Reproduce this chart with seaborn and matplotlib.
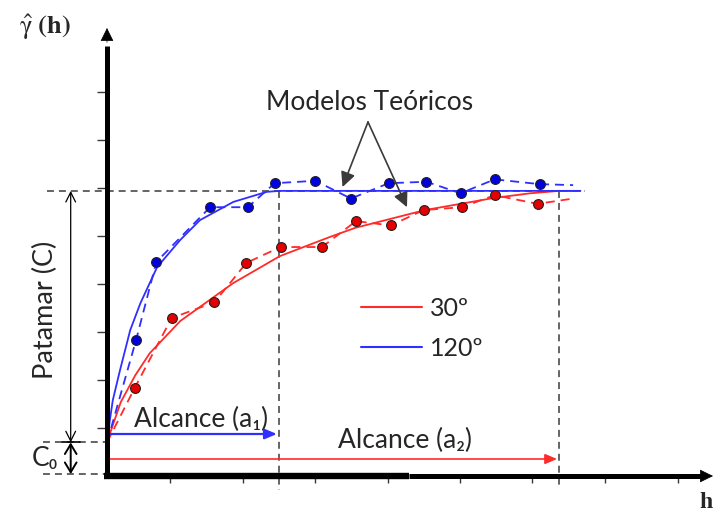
import matplotlib
matplotlib.use("Agg")
import matplotlib.pyplot as plt
import numpy as np
import pandas as pd
import seaborn as sns

# ---------------- data ----------------
# experimental semivariogram points, direction 120º
h_120 = [0.40, 0.68, 1.42, 1.94, 2.31, 2.87, 3.36, 3.88, 4.40, 4.87, 5.34, 5.96]
g_120 = [2.83, 4.46, 5.60, 5.60, 6.10, 6.15, 5.78, 6.10, 6.13, 5.89, 6.18, 6.08]
# experimental semivariogram points, direction 30º
h_30 = [0.38, 0.89, 1.48, 1.92, 2.39, 2.96, 3.43, 3.91, 4.36, 4.89, 5.34, 5.93]
g_30 = [1.83, 3.29, 3.62, 4.44, 4.77, 4.77, 5.31, 5.22, 5.54, 5.60, 5.85, 5.67]
# where the dashed experimental traces end (past the last point)
h_end = 6.42
g_end_120 = 6.06
g_end_30 = 5.78

# theoretical models (traced)
hm_120 = [0.00, 0.04, 0.08, 0.18, 0.32, 0.46, 0.69, 1.01, 1.28, 1.74, 2.20, 2.38, 6.52]
gm_120 = [0.70, 1.17, 1.58, 2.21, 3.04, 3.60, 4.35, 4.92, 5.33, 5.71, 5.92, 5.94, 5.94]
hm_30 = [0.00, 0.08, 0.19, 0.39, 0.59, 1.01, 1.74, 2.38, 3.07, 3.42, 4.38, 5.32, 5.83, 6.23, 6.52]
gm_30 = [0.70, 1.06, 1.54, 2.10, 2.56, 3.23, 4.02, 4.58, 4.98, 5.17, 5.54, 5.79, 5.89, 5.94, 5.94]

labels_dir = ["30º", "120º"]
nugget = 0.70     # C0
sill = 5.94       # C0 + C
range_1 = 2.37    # a1
range_2 = 6.23    # a2
x_ticks = [0.87, 1.87, 2.86, 3.87, 4.86, 5.85, 6.86, 7.86]
y_ticks = [1, 2, 3, 4, 5, 6, 7, 8]

# ---------------- style ----------------
sns.set_style("white")
plt.rcParams["font.family"] = ["Lato", "DejaVu Sans"]
plt.rcParams["mathtext.fontset"] = "stix"
plt.rcParams["lines.scale_dashes"] = False

RED = "#ff2a2a"
BLUE = "#2f2fff"
RED_PT = "#e60000"
BLUE_PT = "#0000e0"
GREY = "#3a3a3a"

W, H = 715, 513
fig = plt.figure(figsize=(W / 100, H / 100), dpi=100)
x_unit, y_unit = 72.6, 48.0
ax = fig.add_axes([107 / W, (H - 476) / H, 606 / W, 448 / H])
xmax, ymax = 606 / x_unit, 448 / y_unit
ax.set_xlim(0, xmax)
ax.set_ylim(0, ymax)
for s in ax.spines.values():
    s.set_visible(False)
ax.set_xticks(x_ticks)
ax.set_yticks(y_ticks)
ax.set_xticklabels([])
ax.set_yticklabels([])
ax.tick_params(axis="y", direction="out", length=7, width=1.0, color=GREY, left=True)
ax.tick_params(axis="x", direction="out", length=5, width=1.0, color=GREY, bottom=True)
ax.grid(False)

# ---------------- reference dashed guides ----------------
guide = dict(color=GREY, lw=1.1, linestyle=(0, (5, 3.6)), clip_on=False, zorder=1)
ax.plot([-0.83, 6.58], [sill, sill], **guide)
ax.plot([-0.88, 0], [nugget, nugget], **guide)
ax.plot([-0.88, 0], [0.04, 0.04], **guide)
ax.plot([range_1, range_1], [sill, -0.29], **guide)
ax.plot([range_2, range_2], [sill, -0.25], **guide)

# ---------------- theoretical models ----------------
df_model = pd.DataFrame({
    "h": hm_30 + hm_120,
    "g": gm_30 + gm_120,
    "dir": [labels_dir[0]] * len(hm_30) + [labels_dir[1]] * len(hm_120),
})
sns.lineplot(data=df_model, x="h", y="g", hue="dir", hue_order=labels_dir,
             palette={labels_dir[0]: RED, labels_dir[1]: BLUE},
             sort=False, estimator=None, lw=1.3, ax=ax, zorder=3)
handles, labels = ax.get_legend_handles_labels()

# ---------------- experimental semivariograms ----------------
sns.lineplot(x=[0] + h_30 + [h_end], y=[nugget] + g_30 + [g_end_30], sort=False,
             estimator=None, color=RED, lw=1.3, linestyle=(0, (6.5, 4.3)),
             ax=ax, zorder=3, legend=False)
sns.lineplot(x=[0] + h_120 + [h_end], y=[nugget] + g_120 + [g_end_120], sort=False,
             estimator=None, color=BLUE, lw=1.3, linestyle=(0, (6.5, 4.3)),
             ax=ax, zorder=3, legend=False)
sns.scatterplot(x=h_30, y=g_30, color=RED_PT, edgecolor="#222222", linewidth=0.8,
                s=50, ax=ax, zorder=4, legend=False)
sns.scatterplot(x=h_120, y=g_120, color=BLUE_PT, edgecolor="#222222", linewidth=0.8,
                s=50, ax=ax, zorder=4, legend=False)

# ---------------- legend ----------------
leg = ax.legend(handles, labels, loc="upper left", bbox_to_anchor=(3.50, 3.73),
                bbox_transform=ax.transData, frameon=False, fontsize=18,
                handlelength=2.45, handletextpad=0.32, labelspacing=0.68,
                borderpad=0, borderaxespad=0)
for line in leg.get_lines():
    line.set_linewidth(1.5)

# ---------------- axes with arrows ----------------
ax.plot([0, 0], [-0.05, 8.95], color="black", lw=3.6, solid_capstyle="butt",
        clip_on=False, zorder=5)
ax.plot([-0.035, 4.16], [0, 0], color="black", lw=4.6, solid_capstyle="butt",
        clip_on=False, zorder=5)
ax.plot([4.16, xmax - 0.1], [0, 0], color="black", lw=3.6, solid_capstyle="butt",
        clip_on=False, zorder=5)
ax.annotate("", xy=(0, ymax), xytext=(0, ymax - 0.3), annotation_clip=False,
            arrowprops=dict(arrowstyle="-|>,head_length=0.85,head_width=0.42",
                            mutation_scale=10, color="black", lw=0.5,
                            shrinkA=0, shrinkB=0), zorder=6)
ax.annotate("", xy=(xmax, 0), xytext=(xmax - 0.3, 0), annotation_clip=False,
            arrowprops=dict(arrowstyle="-|>,head_length=0.85,head_width=0.42",
                            mutation_scale=10, color="black", lw=0.5,
                            shrinkA=0, shrinkB=0), zorder=6)

# ---------------- range arrows ----------------
ax.annotate("", xy=(range_1 - 0.03, 0.875), xytext=(0.02, 0.875), annotation_clip=False,
            arrowprops=dict(arrowstyle="-|>,head_length=0.9,head_width=0.38",
                            mutation_scale=8, color=BLUE, lw=1.6,
                            shrinkA=0, shrinkB=0), zorder=4)
ax.annotate("", xy=(range_2 - 0.03, 0.354), xytext=(0.02, 0.354), annotation_clip=False,
            arrowprops=dict(arrowstyle="-|>,head_length=0.9,head_width=0.38",
                            mutation_scale=8, color=RED, lw=1.2,
                            shrinkA=0, shrinkB=0), zorder=4)
ax.text(1.29, 1.03, "Alcance (a\u2081)", fontsize=19, ha="center", va="baseline")
ax.text(4.11, 0.58, "Alcance (a\u2082)", fontsize=19, ha="center", va="baseline")

# ---------------- sill / nugget arrows ----------------
ax.annotate("", xy=(-0.5, sill), xytext=(-0.5, nugget), annotation_clip=False,
            arrowprops=dict(arrowstyle="<->,head_length=0.5,head_width=0.25",
                            mutation_scale=14, color="black", lw=0.9,
                            shrinkA=0, shrinkB=0))
ax.annotate("", xy=(-0.5, 0.04), xytext=(-0.5, nugget), annotation_clip=False,
            arrowprops=dict(arrowstyle="<->,head_length=0.5,head_width=0.3",
                            mutation_scale=14, color="black", lw=1.4,
                            shrinkA=0, shrinkB=0))
ax.plot([-0.62, -0.375], [nugget, nugget], color="black", lw=1.2, clip_on=False)
ax.text(-0.854, 3.47, "Patamar (C)", fontsize=19.5, rotation=90,
        ha="center", va="center")
ax.text(-0.854, 0.36, "C\u2080", fontsize=19, ha="center", va="center")

# ---------------- "Modelos Teóricos" callout ----------------
ax.text(3.62, 7.625, "Modelos Teóricos", fontsize=19, ha="center", va="baseline")
apex = (3.595, 7.375)
for tip in [(3.244, 6.02), (4.132, 5.60)]:
    ax.annotate("", xy=tip, xytext=apex,
                arrowprops=dict(arrowstyle="-|>,head_length=0.45,head_width=0.22",
                                mutation_scale=20, color=GREY, lw=1.2,
                                shrinkA=0, shrinkB=0), zorder=6)

# ---------------- axis titles ----------------
fig.text(45 / W, 1 - 27 / H, r"$\hat{\mathrm{\gamma}}\ \mathbf{(h)}$", fontsize=19,
         ha="center", va="center")
fig.text(706 / W, 1 - 502 / H, "h", fontsize=17, fontfamily="Liberation Serif",
         fontweight="bold", ha="center", va="center")

ax.set_xlabel("")
ax.set_ylabel("")
fig.savefig("out.png", dpi=100)
